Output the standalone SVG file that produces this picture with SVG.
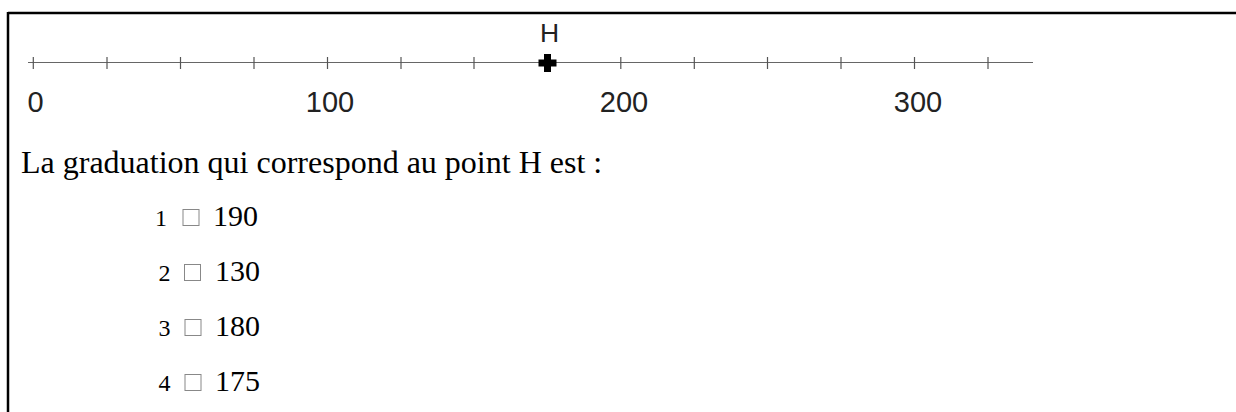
<svg xmlns="http://www.w3.org/2000/svg" width="1236" height="412" viewBox="0 0 1236 412">
<style>
.axis{stroke:#666;stroke-width:1.2;fill:none}
.tick{stroke:#555;stroke-width:1.2}
.lbl{font-family:"Liberation Sans",Arial,sans-serif;font-size:29px;fill:#222;text-anchor:middle}
.q{font-family:"Liberation Serif","Times New Roman",serif;font-size:32px;fill:#000}
.n{font-family:"Liberation Serif","Times New Roman",serif;font-size:24px;fill:#000}
.v{font-family:"Liberation Serif","Times New Roman",serif;font-size:30px;fill:#000}
.box{fill:none;stroke:#888;stroke-width:1}
</style>
<rect width="1236" height="412" fill="#fff"/>
<g id="frame">
<line x1="8" y1="13" x2="1236" y2="13" stroke="#000" stroke-width="2.5"/>
<line x1="8" y1="12" x2="8" y2="412" stroke="#000" stroke-width="2.5"/>
</g>
<g id="numberline">
<line class="axis" x1="28" y1="62.5" x2="1033" y2="62.5"/>
<g class="tick">
<line x1="33.3" y1="57" x2="33.3" y2="69"/>
<line x1="107" y1="57" x2="107" y2="69"/>
<line x1="180.5" y1="57" x2="180.5" y2="69"/>
<line x1="254" y1="57" x2="254" y2="69"/>
<line x1="327.5" y1="57" x2="327.5" y2="69"/>
<line x1="401" y1="57" x2="401" y2="69"/>
<line x1="474" y1="57" x2="474" y2="69"/>
<line x1="620.8" y1="57" x2="620.8" y2="69"/>
<line x1="694.3" y1="57" x2="694.3" y2="69"/>
<line x1="767.5" y1="57" x2="767.5" y2="69"/>
<line x1="841" y1="57" x2="841" y2="69"/>
<line x1="914.5" y1="57" x2="914.5" y2="69"/>
<line x1="988" y1="57" x2="988" y2="69"/>
</g>
<text class="lbl" x="35.5" y="111.7">0</text>
<text class="lbl" x="330" y="111.7">100</text>
<text class="lbl" x="624" y="111.7">200</text>
<text class="lbl" x="918" y="111.7">300</text>
</g>
<g id="pointH">
<path d="M544,54 h7 v5.5 h5.5 v7 h-5.5 v5.5 h-7 v-5.5 h-5.5 v-7 h5.5 z" fill="#000"/>
<text class="lbl" x="549.5" y="42.3" style="font-size:26.5px">H</text>
</g>
<g id="question">
<text class="q" x="21" y="173">La graduation qui correspond au point H est :</text>
</g>
<g id="opt1">
<text class="n" x="155" y="225.7">1</text>
<rect class="box" x="183" y="209.5" width="16" height="16"/>
<text class="v" x="213" y="225.7">190</text>
</g>
<g id="opt2">
<text class="n" x="158.5" y="280.7">2</text>
<rect class="box" x="184.5" y="264.5" width="16" height="16"/>
<text class="v" x="215" y="280.7">130</text>
</g>
<g id="opt3">
<text class="n" x="158.5" y="335.7">3</text>
<rect class="box" x="185" y="319.5" width="16" height="16"/>
<text class="v" x="215" y="335.7">180</text>
</g>
<g id="opt4">
<text class="n" x="158.5" y="390.7">4</text>
<rect class="box" x="185" y="374.5" width="16" height="16"/>
<text class="v" x="215" y="390.7">175</text>
</g>
</svg>
